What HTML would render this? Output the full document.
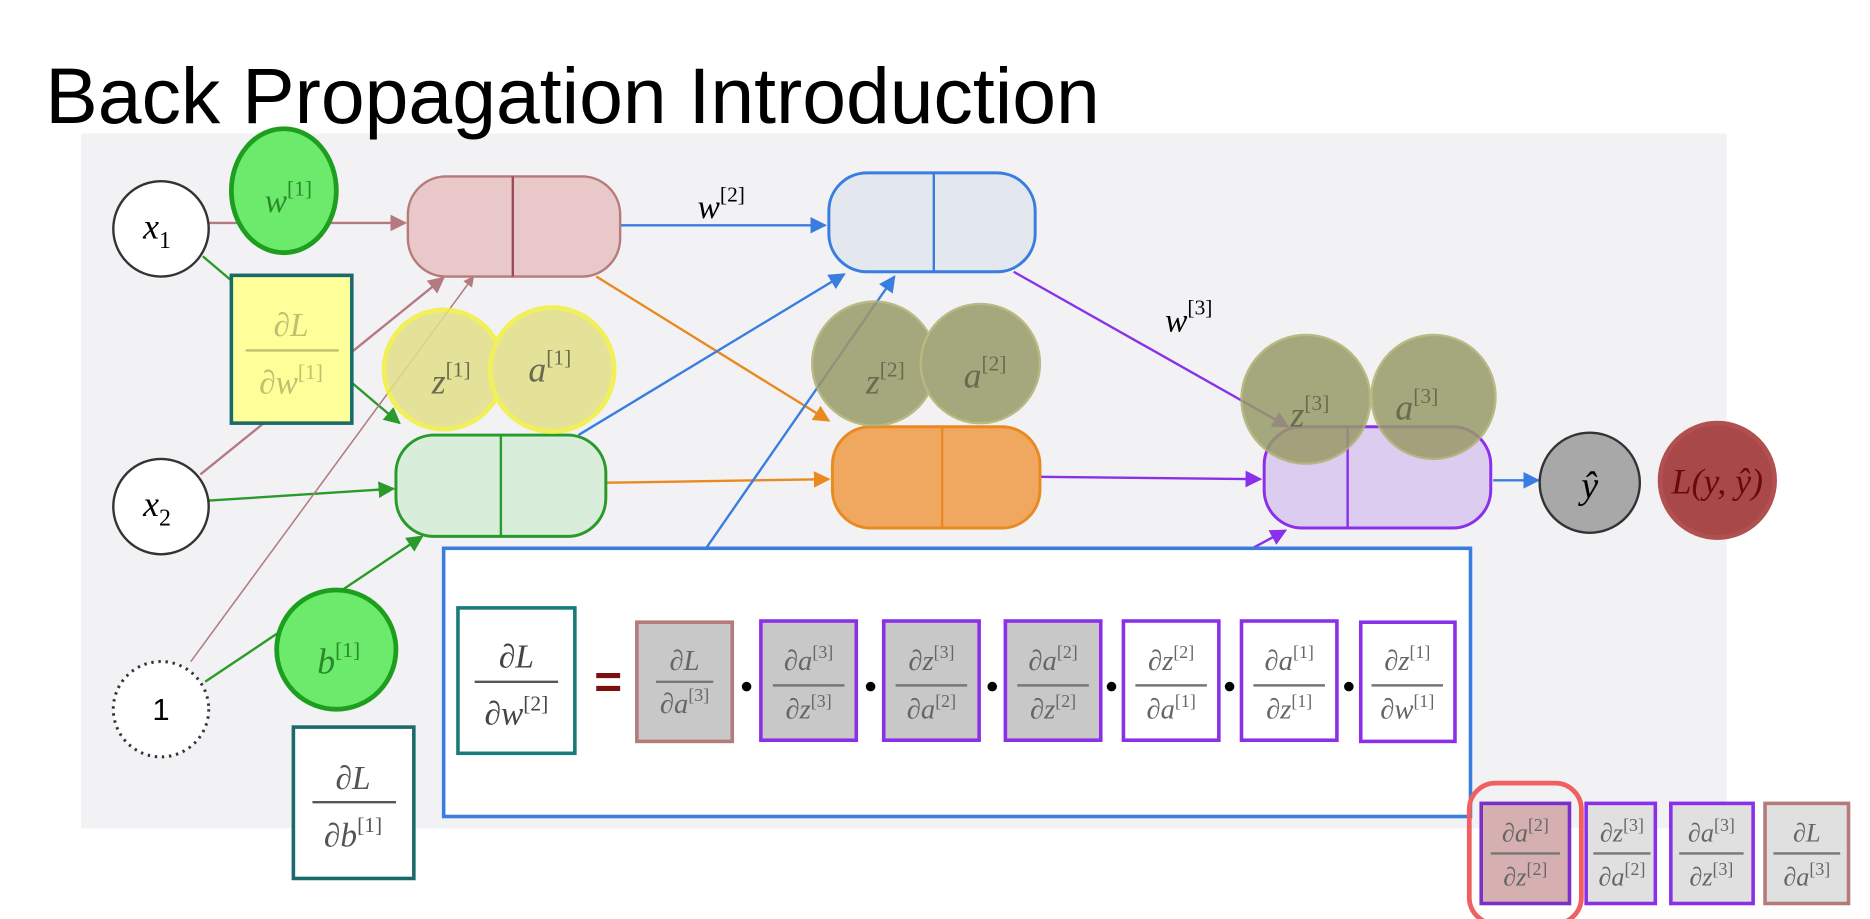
<!DOCTYPE html>
<html><head><meta charset="utf-8"><style>
html,body{margin:0;padding:0;background:#fff;}
svg{display:block}
.m{font-family:"Liberation Serif",serif;font-style:italic;}
.m tspan{font-style:normal}
.s{font-size:15px}
</style></head><body>
<svg width="1870" height="919" viewBox="0 0 1568 771" preserveAspectRatio="none" xmlns="http://www.w3.org/2000/svg">
<defs>
<marker id="ar" viewBox="0 0 10 10" refX="9" refY="5" markerWidth="7" markerHeight="7" orient="auto"><path d="M0,0L10,5L0,10z" fill="#b57a80"/></marker>
<marker id="ag" viewBox="0 0 10 10" refX="9" refY="5" markerWidth="7" markerHeight="7" orient="auto"><path d="M0,0L10,5L0,10z" fill="#2a9a2a"/></marker>
<marker id="abl" viewBox="0 0 10 10" refX="9" refY="5" markerWidth="7" markerHeight="7" orient="auto"><path d="M0,0L10,5L0,10z" fill="#3a7de0"/></marker>
<marker id="ao" viewBox="0 0 10 10" refX="9" refY="5" markerWidth="7" markerHeight="7" orient="auto"><path d="M0,0L10,5L0,10z" fill="#e88a20"/></marker>
<marker id="ap" viewBox="0 0 10 10" refX="9" refY="5" markerWidth="7" markerHeight="7" orient="auto"><path d="M0,0L10,5L0,10z" fill="#8a30e8"/></marker>
</defs>
<rect x="68" y="112" width="1380" height="583" fill="#f2f2f5"/>
<text x="38" y="103" font-family="Liberation Sans,sans-serif" font-size="66" fill="#000">Back Propagation Introduction</text>

<g stroke-width="2" fill="none">
<line x1="175" y1="187" x2="340" y2="187" stroke="#b57a80" marker-end="url(#ar)"/>
<line x1="170" y1="215" x2="335" y2="355" stroke="#2a9a2a" marker-end="url(#ag)"/>
<line x1="168" y1="398" x2="372" y2="233" stroke="#b57a80" marker-end="url(#ar)"/>
<line x1="175" y1="420" x2="330" y2="410" stroke="#2a9a2a" marker-end="url(#ag)"/>
<line x1="160" y1="555" x2="397" y2="232" stroke="#b57a80" stroke-width="1.3" marker-end="url(#ar)"/>
<line x1="172" y1="572" x2="354" y2="450" stroke="#2a9a2a" marker-end="url(#ag)"/>
<line x1="520" y1="189" x2="692" y2="189" stroke="#3a7de0" marker-end="url(#abl)"/>
<line x1="500" y1="232" x2="695" y2="353" stroke="#e88a20" marker-end="url(#ao)"/>
<line x1="485" y1="365" x2="708" y2="230" stroke="#3a7de0" marker-end="url(#abl)"/>
<line x1="508" y1="405" x2="695" y2="402" stroke="#e88a20" marker-end="url(#ao)"/>
<line x1="592" y1="460" x2="750" y2="232" stroke="#3a7de0" marker-end="url(#abl)"/>
<line x1="850" y1="228" x2="1080" y2="358" stroke="#8a30e8" marker-end="url(#ap)"/>
<line x1="872" y1="400" x2="1057" y2="402" stroke="#8a30e8" marker-end="url(#ap)"/>
<line x1="1050" y1="460" x2="1078" y2="445" stroke="#8a30e8" marker-end="url(#ap)"/>
<line x1="1252" y1="403" x2="1290" y2="403" stroke="#3a7de0" marker-end="url(#abl)"/>
</g>

<circle cx="135" cy="192" r="40" fill="#fff" stroke="#333" stroke-width="2"/>
<text x="120" y="200" class="m" font-size="30">x<tspan font-size="20" dy="8">1</tspan></text>
<circle cx="135" cy="425" r="40" fill="#fff" stroke="#333" stroke-width="2"/>
<text x="120" y="433" class="m" font-size="30">x<tspan font-size="20" dy="8">2</tspan></text>
<circle cx="135" cy="595" r="40" fill="#fff" stroke="#333" stroke-width="2.5" stroke-dasharray="2 4"/>
<text x="135" y="604" font-family="Liberation Sans,sans-serif" font-size="26" text-anchor="middle">1</text>

<ellipse cx="238" cy="160" rx="44" ry="52" fill="#6cea6c" stroke="#1e9e1e" stroke-width="4"/>
<text x="222" y="178" class="m" font-size="28" fill="#2a8a2a">w<tspan font-size="18" dy="-14">[1]</tspan></text>

<rect x="342" y="148" width="178" height="84" rx="32" fill="#e8c8c8" stroke="#b57a7a" stroke-width="2"/>
<line x1="430" y1="148" x2="430" y2="232" stroke="#9a4a5a" stroke-width="2"/>
<rect x="695" y="145" width="173" height="83" rx="32" fill="#e2e8ee" stroke="#3a7de0" stroke-width="2.5"/>
<line x1="783" y1="145" x2="783" y2="228" stroke="#3a7de0" stroke-width="2"/>
<rect x="332" y="365" width="176" height="85" rx="32" fill="#d8eedb" stroke="#2a9a2a" stroke-width="2.5"/>
<line x1="420" y1="365" x2="420" y2="450" stroke="#2a9a2a" stroke-width="2"/>
<rect x="698" y="358" width="174" height="85" rx="32" fill="#f0a860" stroke="#e88a20" stroke-width="2.5"/>
<line x1="790" y1="358" x2="790" y2="443" stroke="#e88a20" stroke-width="2"/>
<rect x="1060" y="358" width="190" height="85" rx="32" fill="#dccdf0" stroke="#8a30e8" stroke-width="2.5"/>
<line x1="1130" y1="358" x2="1130" y2="443" stroke="#8a30e8" stroke-width="2"/>

<text x="585" y="183" class="m" font-size="28">w<tspan font-size="18" dy="-14">[2]</tspan></text>
<text x="977" y="278" class="m" font-size="28">w<tspan font-size="18" dy="-14">[3]</tspan></text>

<rect x="194" y="231" width="101" height="124" fill="#ffff99" stroke="#1a6a6a" stroke-width="3"/>
<text x="244" y="282" class="m" font-size="28" fill="#c0c070" text-anchor="middle">∂L</text>
<line x1="206" y1="294" x2="284" y2="294" stroke="#c0c070" stroke-width="2"/>
<text x="244" y="330" class="m" font-size="28" fill="#c0c070" text-anchor="middle">∂w<tspan font-size="18" dy="-12">[1]</tspan></text>

<g opacity="0.85">
<circle cx="372" cy="310" r="50" fill="#e2e08a" stroke="#f2f040" stroke-width="4"/>
<circle cx="463" cy="310" r="52" fill="#e2e08a" stroke="#f2f040" stroke-width="4"/>
<circle cx="733" cy="305" r="52" fill="#989a68" stroke="#b0b070" stroke-width="2"/>
<circle cx="822" cy="305" r="50" fill="#989a68" stroke="#b0b070" stroke-width="2"/>
<circle cx="1095" cy="335" r="54" fill="#989a68" stroke="#b0b070" stroke-width="2"/>
<circle cx="1202" cy="333" r="52" fill="#989a68" stroke="#b0b070" stroke-width="2"/>
</g>
<g class="m" font-size="30" fill="#6a6a50">
<text x="362" y="330">z<tspan font-size="18" dy="-14">[1]</tspan></text>
<text x="443" y="320">a<tspan font-size="18" dy="-14">[1]</tspan></text>
<text x="726" y="330">z<tspan font-size="18" dy="-14">[2]</tspan></text>
<text x="808" y="325">a<tspan font-size="18" dy="-14">[2]</tspan></text>
<text x="1082" y="358">z<tspan font-size="18" dy="-14">[3]</tspan></text>
<text x="1170" y="352">a<tspan font-size="18" dy="-14">[3]</tspan></text>
</g>

<circle cx="1333" cy="405" r="42" fill="#a8a8a8" stroke="#333" stroke-width="2"/>
<text x="1333" y="418" class="m" font-size="32" text-anchor="middle">ŷ</text>
<circle cx="1440" cy="403" r="48" fill="#a84848" stroke="#b05050" stroke-width="4"/>
<text x="1440" y="414" class="m" font-size="30" fill="#6a0a0a" text-anchor="middle">L(y, ŷ)</text>

<circle cx="282" cy="545" r="50" fill="#6cea6c" stroke="#1e9e1e" stroke-width="4"/>
<text x="266" y="565" class="m" font-size="30" fill="#2a8a2a">b<tspan font-size="18" dy="-14">[1]</tspan></text>
<rect x="246" y="610" width="101" height="127" fill="#fff" stroke="#1a6a6a" stroke-width="3"/>
<text x="296" y="662" class="m" font-size="28" fill="#555" text-anchor="middle">∂L</text>
<line x1="262" y1="673" x2="332" y2="673" stroke="#555" stroke-width="2"/>
<text x="296" y="710" class="m" font-size="28" fill="#555" text-anchor="middle">∂b<tspan font-size="18" dy="-12">[1]</tspan></text>

<rect x="372" y="460" width="861" height="225" fill="#fff" stroke="#3a7de0" stroke-width="3"/>
<rect x="384" y="510" width="98" height="122" fill="#fff" stroke="#1a7a7a" stroke-width="3"/>
<text x="433" y="560" class="m" font-size="28" fill="#444" text-anchor="middle">∂L</text>
<line x1="398" y1="572" x2="468" y2="572" stroke="#555" stroke-width="2"/>
<text x="433" y="608" class="m" font-size="28" fill="#444" text-anchor="middle">∂w<tspan font-size="18" dy="-12">[2]</tspan></text>
<text x="510" y="585" font-family="Liberation Sans,sans-serif" font-size="40" font-weight="bold" fill="#7a1010" text-anchor="middle">=</text>

<g class="m" font-size="24" fill="#666" text-anchor="middle">
<rect x="534" y="522" width="80" height="100" fill="#c8c8c8" stroke="#b57a7a" stroke-width="3"/>
<text x="574" y="562">∂L</text><line x1="550" y1="572" x2="598" y2="572" stroke="#777" stroke-width="2"/><text x="574" y="598">∂a<tspan class="s" dy="-10">[3]</tspan></text>
<rect x="638" y="521" width="80" height="100" fill="#c8c8c8" stroke="#8a30e8" stroke-width="3"/>
<text x="678" y="562">∂a<tspan class="s" dy="-10">[3]</tspan></text><line x1="648" y1="575" x2="708" y2="575" stroke="#777" stroke-width="2"/><text x="678" y="603">∂z<tspan class="s" dy="-10">[3]</tspan></text>
<rect x="741" y="521" width="80" height="100" fill="#c8c8c8" stroke="#8a30e8" stroke-width="3"/>
<text x="781" y="562">∂z<tspan class="s" dy="-10">[3]</tspan></text><line x1="751" y1="575" x2="811" y2="575" stroke="#777" stroke-width="2"/><text x="781" y="603">∂a<tspan class="s" dy="-10">[2]</tspan></text>
<rect x="843" y="521" width="80" height="100" fill="#c8c8c8" stroke="#8a30e8" stroke-width="3"/>
<text x="883" y="562">∂a<tspan class="s" dy="-10">[2]</tspan></text><line x1="853" y1="575" x2="913" y2="575" stroke="#777" stroke-width="2"/><text x="883" y="603">∂z<tspan class="s" dy="-10">[2]</tspan></text>
<rect x="942" y="521" width="80" height="100" fill="#fff" stroke="#8a30e8" stroke-width="3"/>
<text x="982" y="562">∂z<tspan class="s" dy="-10">[2]</tspan></text><line x1="952" y1="575" x2="1012" y2="575" stroke="#777" stroke-width="2"/><text x="982" y="603">∂a<tspan class="s" dy="-10">[1]</tspan></text>
<rect x="1041" y="521" width="80" height="100" fill="#fff" stroke="#8a30e8" stroke-width="3"/>
<text x="1081" y="562">∂a<tspan class="s" dy="-10">[1]</tspan></text><line x1="1051" y1="575" x2="1111" y2="575" stroke="#777" stroke-width="2"/><text x="1081" y="603">∂z<tspan class="s" dy="-10">[1]</tspan></text>
<rect x="1141" y="522" width="79" height="100" fill="#fff" stroke="#8a30e8" stroke-width="3"/>
<text x="1180" y="562">∂z<tspan class="s" dy="-10">[1]</tspan></text><line x1="1150" y1="575" x2="1210" y2="575" stroke="#777" stroke-width="2"/><text x="1180" y="603">∂w<tspan class="s" dy="-10">[1]</tspan></text>
</g>
<g fill="#000">
<circle cx="626" cy="576" r="4"/><circle cx="730" cy="576" r="4"/><circle cx="832" cy="576" r="4"/><circle cx="932" cy="576" r="4"/><circle cx="1031" cy="576" r="4"/><circle cx="1131" cy="576" r="4"/>
</g>

<rect x="1232" y="657" width="94" height="118" rx="22" fill="none" stroke="#f06060" stroke-width="4"/>
<g class="m" font-size="22" fill="#666" text-anchor="middle">
<rect x="1242" y="674" width="74" height="84" fill="#d6b0b0" stroke="#7a30c8" stroke-width="3"/>
<text x="1279" y="706">∂a<tspan class="s" dy="-9">[2]</tspan></text><line x1="1250" y1="716" x2="1308" y2="716" stroke="#777" stroke-width="2"/><text x="1279" y="743">∂z<tspan class="s" dy="-9">[2]</tspan></text>
<rect x="1330" y="674" width="58" height="84" fill="#e0e0e0" stroke="#8a30e8" stroke-width="3"/>
<text x="1360" y="706">∂z<tspan class="s" dy="-9">[3]</tspan></text><line x1="1336" y1="716" x2="1384" y2="716" stroke="#777" stroke-width="2"/><text x="1360" y="743">∂a<tspan class="s" dy="-9">[2]</tspan></text>
<rect x="1401" y="674" width="69" height="84" fill="#e0e0e0" stroke="#8a30e8" stroke-width="3"/>
<text x="1435" y="706">∂a<tspan class="s" dy="-9">[3]</tspan></text><line x1="1408" y1="716" x2="1462" y2="716" stroke="#777" stroke-width="2"/><text x="1435" y="743">∂z<tspan class="s" dy="-9">[3]</tspan></text>
<rect x="1480" y="674" width="70" height="84" fill="#e0e0e0" stroke="#b57a7a" stroke-width="3"/>
<text x="1515" y="706">∂L</text><line x1="1487" y1="716" x2="1543" y2="716" stroke="#777" stroke-width="2"/><text x="1515" y="743">∂a<tspan class="s" dy="-9">[3]</tspan></text>
</g>
</svg>
</body></html>
